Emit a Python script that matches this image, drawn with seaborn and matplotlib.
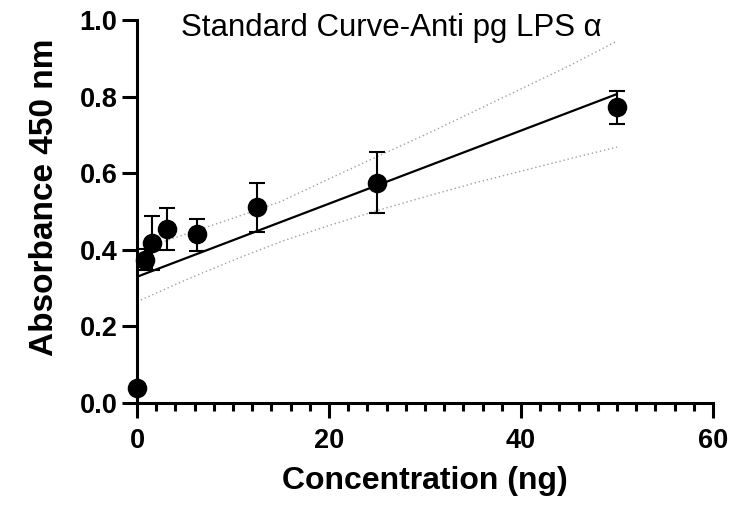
import numpy as np
import pandas as pd
import matplotlib
matplotlib.use("Agg")
import matplotlib.pyplot as plt
import seaborn as sns
from matplotlib.ticker import MultipleLocator, FormatStrFormatter

# standard curve data (means and error bar ends)
conc = [0, 0.78125, 1.5625, 3.125, 6.25, 12.5, 25, 50]
absorb = [0.039, 0.373, 0.416, 0.453, 0.440, 0.512, 0.575, 0.772]
err_low = [0.039, 0.347, 0.347, 0.399, 0.396, 0.447, 0.496, 0.728]
err_high = [0.039, 0.401, 0.489, 0.508, 0.480, 0.574, 0.654, 0.815]

# 95% confidence band of the fit
band_x = [0, 5, 10, 15, 20, 25, 30, 35, 40, 45, 50]
band_upper = [0.397, 0.440, 0.482, 0.526, 0.585, 0.643, 0.700, 0.760, 0.820, 0.880, 0.945]
band_lower = [0.264, 0.320, 0.372, 0.421, 0.463, 0.502, 0.538, 0.573, 0.605, 0.637, 0.668]

df = pd.DataFrame({"conc": conc, "abs": absorb})
slope, intercept = np.polyfit(conc, absorb, 1)
fit_x = np.array([0, 50])
fit = pd.DataFrame({"x": fit_x, "y": intercept + slope * fit_x})
band = pd.DataFrame({"x": band_x, "up": band_upper, "lo": band_lower})

sns.set_style("ticks")
plt.rcParams["font.family"] = ["Liberation Sans", "DejaVu Sans"]
plt.rcParams.update({"text.color": "black", "axes.labelcolor": "black",
                     "xtick.color": "black", "ytick.color": "black",
                     "axes.edgecolor": "black"})

fig = plt.figure(figsize=(7.53, 5.05), dpi=100)
ax = fig.add_axes([0.182, 0.2026, 0.765, 0.7578])

sns.lineplot(data=band, x="x", y="up", ax=ax, color="#a0a0a0", lw=1, linestyle=(0, (1, 2)))
sns.lineplot(data=band, x="x", y="lo", ax=ax, color="#a0a0a0", lw=1, linestyle=(0, (1, 2)))
sns.lineplot(data=fit, x="x", y="y", ax=ax, color="black", lw=1.6)

yerr = [np.array(absorb) - np.array(err_low), np.array(err_high) - np.array(absorb)]
ax.errorbar(conc, absorb, yerr=yerr, fmt="none", ecolor="black", elinewidth=1.5,
            capsize=5.5, capthick=1.5, clip_on=False, zorder=3)
sns.scatterplot(data=df, x="conc", y="abs", ax=ax, color="black", s=170,
                edgecolor="black", zorder=4, clip_on=False)

ax.set_xlim(0, 60)
ax.set_ylim(0, 1.0)
ax.xaxis.set_major_locator(MultipleLocator(20))
ax.xaxis.set_minor_locator(MultipleLocator(2))
ax.yaxis.set_major_locator(MultipleLocator(0.2))
ax.yaxis.set_major_formatter(FormatStrFormatter("%.1f"))

sns.despine(ax=ax)
for s in ["left", "bottom"]:
    ax.spines[s].set_linewidth(2.2)
ax.tick_params(which="major", length=11, width=2.2, labelsize=19.5, pad=3)
ax.tick_params(axis="x", which="major", pad=7)
ax.tick_params(which="minor", length=6, width=2.2)
for lab in ax.get_xticklabels() + ax.get_yticklabels():
    lab.set_fontweight("bold")

ax.set_xlabel("Concentration (ng)", fontsize=23, fontweight="bold", labelpad=9)
ax.set_ylabel("Absorbance 450 nm", fontsize=24, fontweight="bold")
ax.yaxis.set_label_coords(-0.134, 0.537)
fig.text(0.52, 0.929, "Standard Curve-Anti pg LPS α", fontsize=22.5, ha="center", va="baseline")

fig.savefig("out.png", dpi=100)
